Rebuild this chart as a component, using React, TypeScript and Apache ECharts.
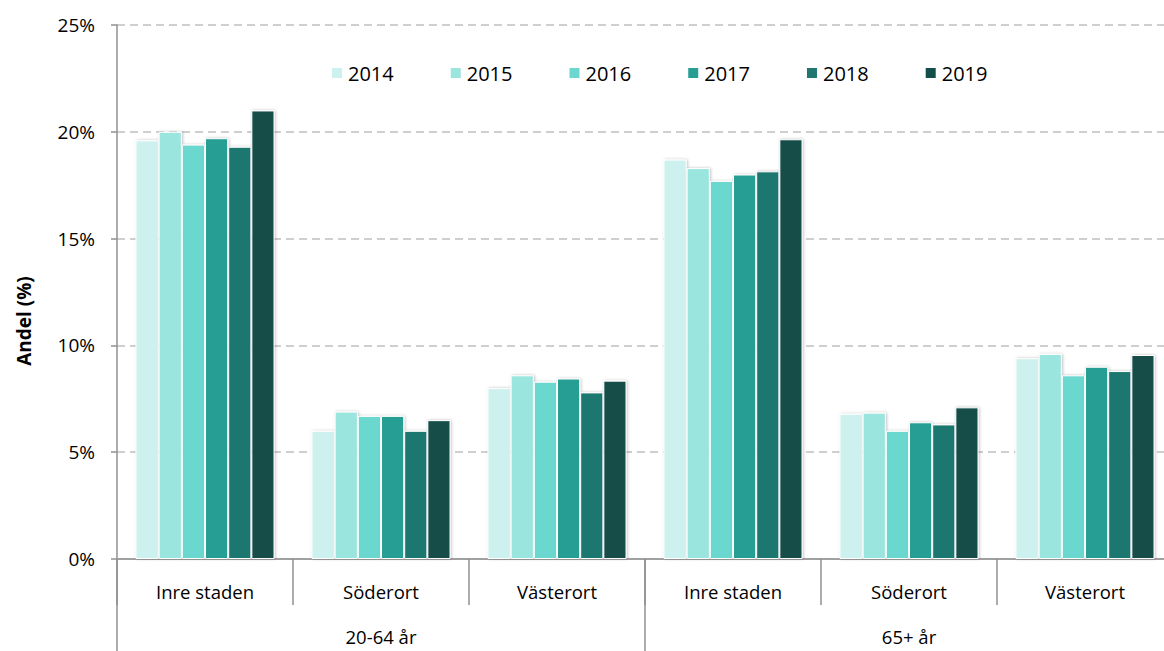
import React, { useEffect, useRef } from "react";
import * as echarts from "echarts";

const categories = ["Inre staden", "Söderort", "Västerort", "Inre staden", "Söderort", "Västerort"];
const ageGroups = ["20-64 år", "65+ år"];
const years = ["2014", "2015", "2016", "2017", "2018", "2019"];
const colors = ["#cdf1ee", "#9be5df", "#6ad8cf", "#279e94", "#1f776f", "#144e4a"];

const v2014 = [19.6, 6.0, 8.0, 18.7, 6.8, 9.4];
const v2015 = [20.0, 6.9, 8.6, 18.3, 6.85, 9.6];
const v2016 = [19.4, 6.7, 8.3, 17.7, 6.0, 8.6];
const v2017 = [19.7, 6.7, 8.45, 18.0, 6.4, 9.0];
const v2018 = [19.3, 6.0, 7.8, 18.15, 6.3, 8.8];
const v2019 = [21.0, 6.5, 8.35, 19.65, 7.1, 9.55];
const seriesValues = [v2014, v2015, v2016, v2017, v2018, v2019];

const yTicks = { min: 0, max: 25, interval: 5 };
const FONT = "'Open Sans', 'Noto Sans', sans-serif";

export default function App() {
  const ref = useRef<HTMLDivElement>(null);
  useEffect(() => {
    if (!ref.current) return;
    const chart = echarts.init(ref.current, null, { renderer: "svg" });
    chart.setOption({
      animation: false,
      textStyle: { fontFamily: FONT },
      legend: {
        top: 58,
        left: 325,
        itemWidth: 12,
        itemHeight: 12,
        itemGap: 55,
        icon: "rect",
        textStyle: { fontSize: 20, color: "#000", fontFamily: FONT },
        data: years,
      },
      grid: { left: 117, right: 7, top: 25, bottom: 92, containLabel: false, outerBoundsMode: "none" },
      xAxis: [
        {
          type: "category",
          data: categories,
          position: "bottom",
          axisLine: { show: true, lineStyle: { color: "#a0a0a0", width: 2 } },
          axisTick: { show: true, interval: 0, length: 46, lineStyle: { color: "#909090", width: 1.5 } },
          axisLabel: { interval: 0, margin: 23, fontSize: 18.5, color: "#000", fontFamily: FONT },
        },
        {
          type: "category",
          data: ageGroups,
          position: "bottom",
          axisLine: { show: false },
          axisTick: { show: true, interval: 0, length: 92, lineStyle: { color: "#909090", width: 1.5 } },
          axisLabel: { interval: 0, margin: 68, fontSize: 18.5, color: "#000", fontFamily: FONT },
        },
      ],
      yAxis: {
        type: "value",
        min: yTicks.min,
        max: yTicks.max,
        interval: yTicks.interval,
        axisLine: { show: true, lineStyle: { color: "#909090", width: 1.5 } },
        axisTick: { show: true, length: 6, lineStyle: { color: "#909090", width: 1.5 } },
        axisLabel: { formatter: "{value}%", fontSize: 19, color: "#000", margin: 22, fontFamily: FONT },
        splitLine: { show: true, lineStyle: { color: "#c0c0c0", width: 1.5, type: [8, 5] } },
      },
      graphic: [
        {
          type: "text",
          x: 24,
          y: 321,
          rotation: Math.PI / 2,
          style: {
            text: "Andel (%)",
            font: `bold 19px ${FONT}`,
            fill: "#000",
            align: "center",
            verticalAlign: "middle",
          },
        },
      ],
      series: years.map((y, i) => ({
        name: y,
        type: "bar",
        xAxisIndex: 0,
        data: seriesValues[i],
        barGap: "0%",
        barCategoryGap: "21%",
        itemStyle: {
          color: colors[i],
          borderColor: "#ffffff",
          borderWidth: 1,
          shadowBlur: 3,
          shadowColor: "rgba(0,0,0,0.25)",
          shadowOffsetX: 1,
          shadowOffsetY: 0,
        },
      })),
    });
    return () => chart.dispose();
  }, []);
  return (
    <div
      style={{ position: "fixed", left: 0, top: 0, width: 1164, height: 651, overflow: "hidden", background: "#fff" }}
    >
      <div ref={ref} style={{ width: 1180, height: 651 }} />
    </div>
  );
}
